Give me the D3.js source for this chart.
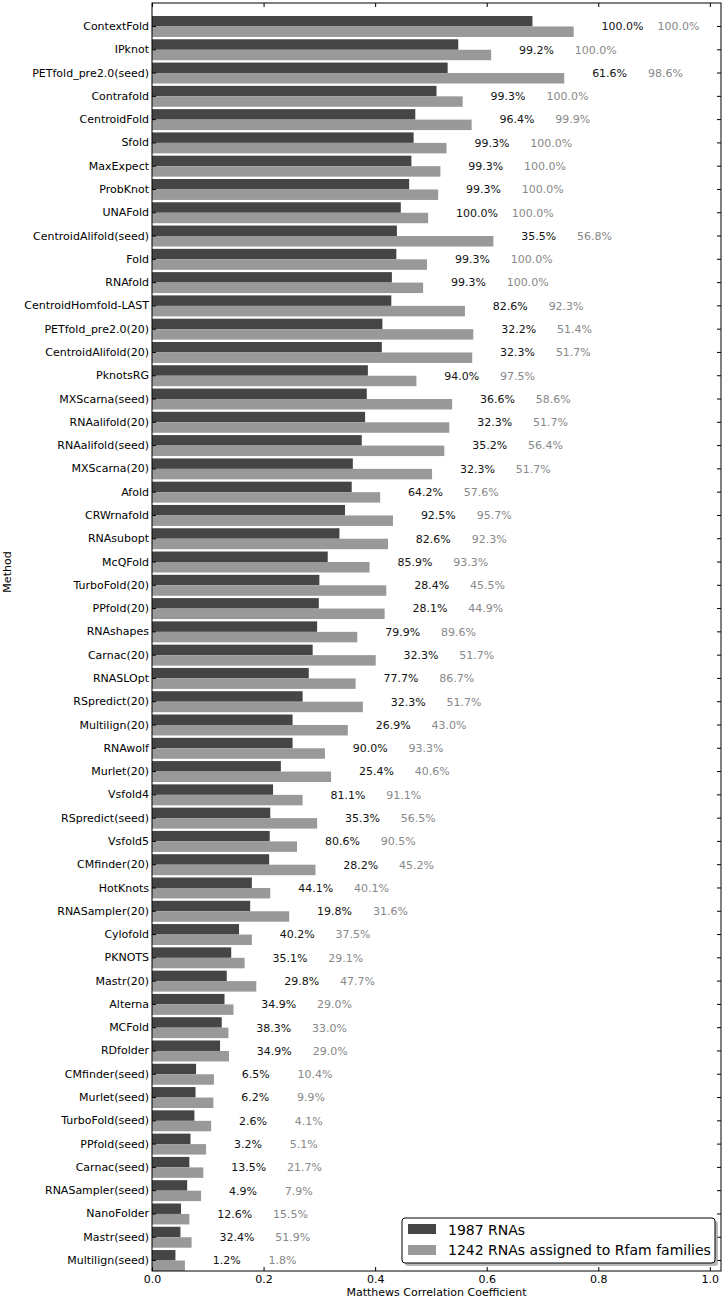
<!DOCTYPE html>
<html>
<head>
<meta charset="utf-8">
<script src="https://cdn.jsdelivr.net/npm/d3@7"></script>
<style>
  body { margin: 0; background: #fff; }
  svg { display: block; font-family: "DejaVu Sans", sans-serif; }
</style>
</head>
<body>
<div id="chart"></div>
<script>
// Methods, top to bottom
const methods = [
  "ContextFold", "IPknot", "PETfold_pre2.0(seed)", "Contrafold", "CentroidFold",
  "Sfold", "MaxExpect", "ProbKnot", "UNAFold", "CentroidAlifold(seed)",
  "Fold", "RNAfold", "CentroidHomfold-LAST", "PETfold_pre2.0(20)", "CentroidAlifold(20)",
  "PknotsRG", "MXScarna(seed)", "RNAalifold(20)", "RNAalifold(seed)", "MXScarna(20)",
  "Afold", "CRWrnafold", "RNAsubopt", "McQFold", "TurboFold(20)",
  "PPfold(20)", "RNAshapes", "Carnac(20)", "RNASLOpt", "RSpredict(20)",
  "Multilign(20)", "RNAwolf", "Murlet(20)", "Vsfold4", "RSpredict(seed)",
  "Vsfold5", "CMfinder(20)", "HotKnots", "RNASampler(20)", "Cylofold",
  "PKNOTS", "Mastr(20)", "Alterna", "MCFold", "RDfolder",
  "CMfinder(seed)", "Murlet(seed)", "TurboFold(seed)", "PPfold(seed)", "Carnac(seed)",
  "RNASampler(seed)", "NanoFolder", "Mastr(seed)", "Multilign(seed)"
];

// MCC, 1987 RNAs
const mccAll = [
  0.682, 0.549, 0.530, 0.510, 0.472,
  0.469, 0.465, 0.461, 0.446, 0.439,
  0.438, 0.430, 0.429, 0.413, 0.412,
  0.387, 0.385, 0.382, 0.376, 0.360,
  0.358, 0.346, 0.336, 0.315, 0.300,
  0.299, 0.296, 0.288, 0.281, 0.270,
  0.252, 0.252, 0.231, 0.217, 0.212,
  0.211, 0.210, 0.179, 0.176, 0.156,
  0.142, 0.134, 0.130, 0.125, 0.122,
  0.079, 0.078, 0.076, 0.069, 0.067,
  0.063, 0.052, 0.051, 0.042
];

// MCC, 1242 RNAs assigned to Rfam families
const mccRfam = [
  0.756, 0.608, 0.739, 0.557, 0.573,
  0.528, 0.517, 0.513, 0.495, 0.612,
  0.493, 0.486, 0.561, 0.576, 0.574,
  0.474, 0.538, 0.533, 0.524, 0.502,
  0.409, 0.432, 0.423, 0.390, 0.420,
  0.417, 0.368, 0.401, 0.365, 0.378,
  0.351, 0.310, 0.321, 0.270, 0.296,
  0.260, 0.293, 0.212, 0.246, 0.179,
  0.166, 0.187, 0.146, 0.137, 0.138,
  0.111, 0.110, 0.106, 0.097, 0.092,
  0.088, 0.067, 0.071, 0.059
];

// coverage labels
const pctAll = [
  "100.0%", "99.2%", "61.6%", "99.3%", "96.4%",
  "99.3%", "99.3%", "99.3%", "100.0%", "35.5%",
  "99.3%", "99.3%", "82.6%", "32.2%", "32.3%",
  "94.0%", "36.6%", "32.3%", "35.2%", "32.3%",
  "64.2%", "92.5%", "82.6%", "85.9%", "28.4%",
  "28.1%", "79.9%", "32.3%", "77.7%", "32.3%",
  "26.9%", "90.0%", "25.4%", "81.1%", "35.3%",
  "80.6%", "28.2%", "44.1%", "19.8%", "40.2%",
  "35.1%", "29.8%", "34.9%", "38.3%", "34.9%",
  "6.5%", "6.2%", "2.6%", "3.2%", "13.5%",
  "4.9%", "12.6%", "32.4%", "1.2%"
];

const pctRfam = [
  "100.0%", "100.0%", "98.6%", "100.0%", "99.9%",
  "100.0%", "100.0%", "100.0%", "100.0%", "56.8%",
  "100.0%", "100.0%", "92.3%", "51.4%", "51.7%",
  "97.5%", "58.6%", "51.7%", "56.4%", "51.7%",
  "57.6%", "95.7%", "92.3%", "93.3%", "45.5%",
  "44.9%", "89.6%", "51.7%", "86.7%", "51.7%",
  "43.0%", "93.3%", "40.6%", "91.1%", "56.5%",
  "90.5%", "45.2%", "40.1%", "31.6%", "37.5%",
  "29.1%", "47.7%", "29.0%", "33.0%", "29.0%",
  "10.4%", "9.9%", "4.1%", "5.1%", "21.7%",
  "7.9%", "15.5%", "51.9%", "1.8%"
];

const xTicks = [0, 0.2, 0.4, 0.6, 0.8, 1.0];
const legendLabels = ["1987 RNAs", "1242 RNAs assigned to Rfam families"];

const width = 725, height = 1300;
const plotLeft = 152, plotRight = 721, plotTop = 3, plotBottom = 1271;
const darkColor = "#454545", lightColor = "#999999";

const data = methods.map((m, i) => ({
  method: m, all: mccAll[i], rfam: mccRfam[i], pAll: pctAll[i], pRfam: pctRfam[i]
}));

const svg = d3.select("#chart").append("svg")
  .attr("width", width)
  .attr("height", height);

const x = d3.scaleLinear().domain([0, 1.02]).range([plotLeft, plotRight]);
const y = d3.scaleBand().domain(methods).range([plotTop + 13, plotBottom]).paddingInner(0.1).paddingOuter(0);
const half = y.bandwidth() / 2;

// bars
const g = svg.append("g");
g.selectAll("rect.all")
  .data(data)
  .join("rect")
  .attr("class", "all")
  .attr("x", x(0))
  .attr("y", d => y(d.method))
  .attr("width", d => x(d.all) - x(0))
  .attr("height", half)
  .attr("fill", darkColor);

g.selectAll("rect.rfam")
  .data(data)
  .join("rect")
  .attr("class", "rfam")
  .attr("x", x(0))
  .attr("y", d => y(d.method) + half)
  .attr("width", d => x(d.rfam) - x(0))
  .attr("height", half)
  .attr("fill", lightColor);

// percentage labels
g.selectAll("text.pall")
  .data(data)
  .join("text")
  .attr("class", "pall")
  .attr("x", d => x(d.rfam + 0.05))
  .attr("y", d => y(d.method) + half)
  .attr("dy", "0.35em")
  .attr("font-size", 11)
  .attr("fill", "#111")
  .text(d => d.pAll);

g.selectAll("text.prfam")
  .data(data)
  .join("text")
  .attr("class", "prfam")
  .attr("x", d => x(d.rfam + 0.15))
  .attr("y", d => y(d.method) + half)
  .attr("dy", "0.35em")
  .attr("font-size", 11)
  .attr("fill", "#888")
  .text(d => d.pRfam);

// axes (ticks pointing inward)
const axisStyle = sel => {
  sel.select(".domain").remove();
  sel.selectAll("line").attr("stroke", "#000");
  sel.selectAll("text").attr("font-size", 11).attr("fill", "#000").attr("font-family", "DejaVu Sans");
};

svg.append("g")
  .attr("transform", `translate(0,${plotBottom})`)
  .call(d3.axisBottom(x).tickValues(xTicks).tickFormat(d3.format(".1f")).tickSize(-4).tickPadding(4))
  .call(axisStyle);

svg.append("g")
  .attr("transform", `translate(0,${plotTop})`)
  .call(d3.axisTop(x).tickValues(xTicks).tickFormat("").tickSize(-4))
  .call(axisStyle);

svg.append("g")
  .attr("transform", `translate(${plotLeft},0)`)
  .call(d3.axisLeft(y).tickSize(-4).tickPadding(3))
  .call(axisStyle);

svg.append("g")
  .attr("transform", `translate(${plotRight},0)`)
  .call(d3.axisRight(y).tickFormat("").tickSize(-4))
  .call(axisStyle);

// frame
svg.append("rect")
  .attr("x", plotLeft)
  .attr("y", plotTop)
  .attr("width", plotRight - plotLeft)
  .attr("height", plotBottom - plotTop)
  .attr("fill", "none")
  .attr("stroke", "#000")
  .attr("stroke-width", 1);

// axis titles
svg.append("text")
  .attr("x", (plotLeft + plotRight) / 2)
  .attr("y", 1296)
  .attr("text-anchor", "middle")
  .attr("font-size", 11)
  .text("Matthews Correlation Coefficient");

svg.append("text")
  .attr("transform", "translate(11,572) rotate(-90)")
  .attr("text-anchor", "middle")
  .attr("font-size", 11)
  .text("Method");

// legend
const lg = svg.append("g").attr("transform", "translate(402,1218)");
lg.append("rect")
  .attr("x", 3).attr("y", 3)
  .attr("width", 313).attr("height", 45)
  .attr("rx", 3)
  .attr("fill", "#888")
  .attr("opacity", 0.6);
lg.append("rect")
  .attr("width", 313).attr("height", 45)
  .attr("rx", 3)
  .attr("fill", "#fff")
  .attr("stroke", "#000");

lg.selectAll("rect.sw")
  .data(legendLabels)
  .join("rect")
  .attr("class", "sw")
  .attr("x", 6)
  .attr("y", (d, i) => 6 + i * 21)
  .attr("width", 28)
  .attr("height", 10)
  .attr("fill", (d, i) => i === 0 ? darkColor : lightColor);

lg.selectAll("text.lt")
  .data(legendLabels)
  .join("text")
  .attr("class", "lt")
  .attr("x", 46)
  .attr("y", (d, i) => 12 + i * 20)
  .attr("dy", "0.35em")
  .attr("font-size", 14)
  .text(d => d);
</script>
</body>
</html>
